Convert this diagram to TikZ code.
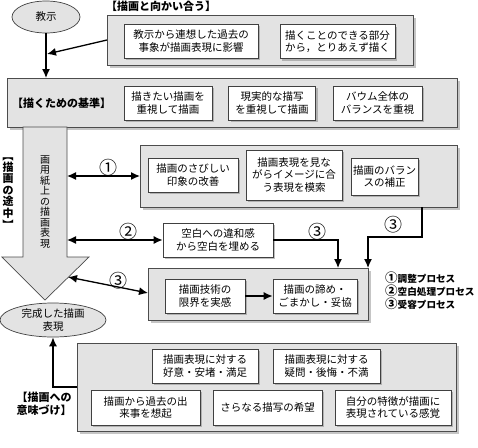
\documentclass[tikz,border=0pt]{standalone}
\usepackage{fontspec}
\setmainfont{Noto Sans CJK JP}
\usetikzlibrary{arrows.meta,shadows,calc,shapes.geometric}

% circled digits in the key, set a little larger than the words
\newcommand{\keynum}[1]{{\fontsize{12.5}{12}\selectfont #1}}

\tikzset{
  panel/.style={draw=black!70, line width=0.7pt, fill=black!11,
    drop shadow={shadow xshift=2.5pt, shadow yshift=-2.5pt, fill=black!45}},
  card/.style={draw=black!75, line width=0.7pt, fill=white, align=center,
    inner sep=2pt, font=\fontsize{10.5}{12.5}\selectfont,
    drop shadow={shadow xshift=2pt, shadow yshift=-2pt, fill=black!50}},
  oval/.style={ellipse, draw=black!75, line width=0.7pt, fill=black!11,
    align=center, inner sep=0pt, font=\fontsize{10.5}{13}\selectfont},
  conn/.style={line width=1.3pt, -{Latex[length=9pt,width=8pt]}},
  dconn/.style={line width=1.3pt, {Latex[length=9pt,width=8pt]}-{Latex[length=9pt,width=8pt]}},
  tag/.style={font=\bfseries\fontsize{11}{13}\selectfont, inner sep=0pt},
  keytext/.style={font=\bfseries\fontsize{9.6}{12}\selectfont, inner sep=0pt},
  num/.style={font=\fontsize{18}{18}\selectfont, inner sep=0pt},
}

\begin{document}
\begin{tikzpicture}[x=1pt,y=-1pt]
  \useasboundingbox (0,0) rectangle (478,447);

  % start and end ovals
  \node[oval, minimum width=68pt, minimum height=32pt] (start) at (46,17) {教示};
  \node[oval, minimum width=106pt, minimum height=34pt] (done) at (53,320) {完成した描画\\表現};

  % facing the drawing
  \node[tag, anchor=west] (t1) at (106,6) {【描画と向かい合う】};
  \path[panel] (107,15) rectangle (413,65);
  \coordinate (p1w) at (107,40);
  \node[card, minimum width=134pt, minimum height=34pt] (a1) at (191,41) {教示から連想した過去の\\事象が描画表現に影響};
  \node[card, minimum width=115pt, minimum height=34pt] (a2) at (337.5,41.5) {描くことのできる部分\\から，とりあえず描く};

  % criteria for drawing
  \path[panel] (7,78) rectangle (457,127);
  \coordinate (p2n) at (46,78);
  \node[tag, anchor=west] (t2) at (12,103) {【描くための基準】};
  \node[card, minimum width=88pt, minimum height=34pt] (b1) at (168,103) {描きたい描画を\\重視して描画};
  \node[card, minimum width=87pt, minimum height=34pt] (b2) at (272,103) {現実的な描写\\を重視して描画};
  \node[card, minimum width=89pt, minimum height=34pt] (b3) at (377.5,103) {バウム全体の\\バランスを重視};

  % large arrow: the drawing in progress
  \path[draw=black!70, line width=0.7pt, fill=black!11]
    (23,127) -- (67,127) -- (67,257) -- (89,257) -- (45,300) -- (2,257) -- (23,257) -- cycle;
  \node[inner sep=0pt, align=center, font=\fontsize{10}{10.5}\selectfont] (paper) at (45,202)
    {画\\用\\紙\\上\\の\\描\\画\\表\\現};
  \node[inner sep=0pt, align=center, font=\bfseries\fontsize{11}{11.5}\selectfont] (t3) at (8,190)
    {\rotatebox[origin=c]{-90}{【}\\描\\画\\の\\途\\中\\\rotatebox[origin=c]{-90}{】}};
  \coordinate (s1) at (67,176);
  \coordinate (s2) at (67,240);
  \coordinate (s3) at (68,277);

  % adjustment panel
  \path[panel] (140,145) rectangle (457,207);
  \coordinate (p3w) at (140,176);
  \coordinate (p3s) at (422,207);
  \node[card, minimum width=90pt, minimum height=34pt] (c1) at (193,175) {描画のさびしい\\印象の改善};
  \node[card, minimum width=96pt, minimum height=50pt] (c2) at (294,175) {描画表現を見な\\がらイメージに合\\う表現を模索};
  \node[card, minimum width=59pt, minimum height=37pt] (c3) at (384.5,176.5) {描画のバラン\\スの補正};

  % blank handling
  \node[card, minimum width=110pt, minimum height=34pt] (d) at (218,240) {空白への違和感\\から空白を埋める};

  % acceptance panel
  \path[panel] (148,268) rectangle (368,320);
  \coordinate (p4w) at (148,293);
  \coordinate (p4a) at (338,268);
  \coordinate (p4b) at (368,268);
  \node[card, minimum width=80pt, minimum height=34pt] (e1) at (205,296) {描画技術の\\限界を実感};
  \node[card, minimum width=84pt, minimum height=34pt] (e2) at (315,296) {描画の諦め・\\ごまかし・妥協};

  % key to the three processes
  \node[keytext, anchor=west] (l1) at (385,278) {\keynum{①}調整プロセス};
  \node[keytext, anchor=west] (l2) at (385,291) {\keynum{②}空白処理プロセス};
  \node[keytext, anchor=west] (l3) at (385,304) {\keynum{③}受容プロセス};

  % meaning given to the drawing
  \path[panel] (77,343) rectangle (456,431);
  \coordinate (p5w) at (77,387);
  \node[tag, align=left] (t4) at (44,404) {【描画への\\意味づけ】};
  \node[card, minimum width=106pt, minimum height=34pt] (f1) at (205,366) {描画表現に対する\\好意・安堵・満足};
  \node[card, minimum width=107pt, minimum height=34pt] (f2) at (326.5,366) {描画表現に対する\\疑問・後悔・不満};
  \node[card, minimum width=109pt, minimum height=35pt] (f3) at (145.5,407.5) {描画から過去の出\\来事を想起};
  \node[card, minimum width=109pt, minimum height=35pt] (f4) at (267.5,407.5) {さらなる描写の希望};
  \node[card, minimum width=116pt, minimum height=35pt] (f5) at (393,407.5) {自分の特徴が描画に\\表現されている感覚};

  % connectors
  \coordinate (j1) at (47,54);
  \draw[conn] (start.south) -- (p2n);
  \draw[conn] (p1w) -- (j1);
  \draw[dconn] (s1) -- (p3w);
  \draw[dconn] (s2) -- (d.west);
  \draw[dconn] (s3) -- (p4w);
  \draw[conn] (d.east) -| (p4a);
  \draw[conn] (p3s) |- (368,237) -- (p4b);
  \draw[conn] (e1.east) -- (e2.west);
  \draw[conn] (p5w) -| (done.south);

  % connector labels
  \node[num] (n1) at (108,168) {①};
  \node[num] (n2) at (128,232) {②};
  \node[num] (n3) at (118,281) {③};
  \node[num] (n4) at (317,232) {③};
  \node[num] (n5) at (393,225) {③};
\end{tikzpicture}
\end{document}
